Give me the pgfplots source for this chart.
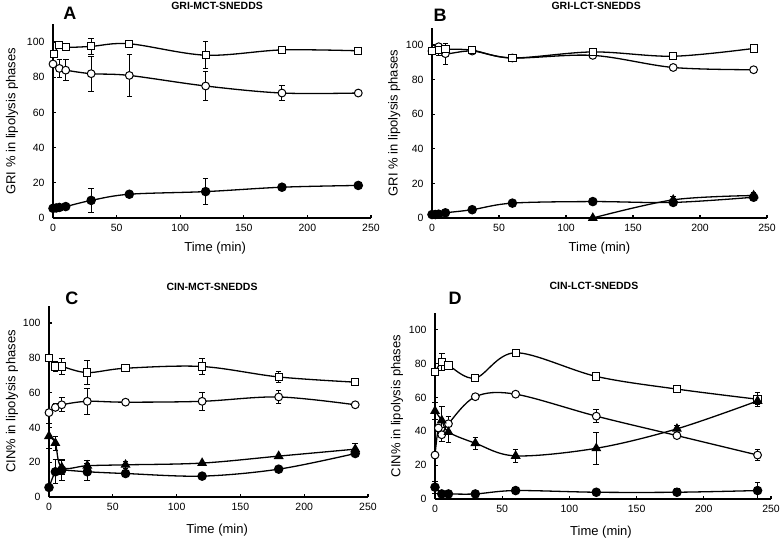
\documentclass[border=0pt]{standalone}
\usepackage{fontspec}
\setmainfont{Liberation Sans}
\usepackage{pgfplots}
\pgfplotsset{compat=1.18}
\usepackage{pgfplotstable}

% ---------------- data: t  value  error ----------------
\pgfplotstableread{
t v e
1 93 0
5 98.5 0
10 97 0
30 97.5 4.5
60 99 0
120 92.5 7.5
180 95.5 0
240 95 0
}\Asq
\pgfplotstableread{
t v e
0 87.5 0
5 85 5
10 84 6
30 82 10
60 81 12
120 75 8.5
180 71 4
240 71 0
}\Aoc
\pgfplotstableread{
t v e
0 5.5 0
2.5 5.7 0
5 6 0
10 6.5 0
30 10 7
60 13.5 0
120 15 7.5
180 17.5 0
240 18.5 0
}\Afc
\pgfplotstableread{
t v e
0 96.5 0
5 97 3
10 97.5 0
30 97 0
60 92.5 0
120 96 0
180 93.5 0
240 98 0
}\Bsq
\pgfplotstableread{
t v e
0 96.5 0
5 99 0
10 95 6
30 96.5 0
60 92.5 0
120 94 0
180 87 0
240 85.7 0
}\Boc
\pgfplotstableread{
t v e
0 2 0
2.5 2 0
5 2.2 0
10 3 0
30 4.8 0
60 8.6 0
120 9.5 0
180 9 0
240 12 1
}\Bfc
\pgfplotstableread{
t v e
120 0 0
180 10.5 2
240 13 1.5
}\Btr
\pgfplotstableread{
t v e
0 80 0
5 75 3
10 75 4.5
30 71.5 7
60 74 0
120 75 4.5
180 69 3
240 66 0
}\Csq
\pgfplotstableread{
t v e
0 48.5 0
5 51.5 2
10 53 4
30 55 7.5
60 54.5 0
120 55 5
180 57.5 3.5
240 53 0
}\Coc
\pgfplotstableread{
t v e
0 35 7
5 31 4
10 17 4
30 18 3
60 18.5 2
120 19.5 0
180 23.5 0
240 27.5 3
}\Ctr
\pgfplotstableread{
t v e
0 5.5 0
5 14.5 7
10 15.5 6
30 14.5 5
60 13.5 0
120 12 0
180 16 0
240 25 2
}\Cfc
\pgfplotstableread{
t v e
0 75 0
5 81 5
10 79 0
30 71.5 0
60 86.5 0
120 72.5 0
180 65 0
240 59 4
}\Dsq
\pgfplotstableread{
t v e
0 26 0
2.5 42 0
5 38 4
10 44.5 4.5
30 60.5 0
60 62 0
120 49 4
180 37.5 0
240 26 3
}\Doc
\pgfplotstableread{
t v e
0 52 5
5 46.5 8
10 39.6 6
30 33 3.5
60 25.5 4
120 30 9.5
180 41.5 2
240 58 2
}\Dtr
\pgfplotstableread{
t v e
0 7 3.5
5 3 0
10 3 0
30 3 0
60 5 0
120 4 0
180 4 2
240 5 4.5
}\Dfc

\pgfplotsset{
  panel/.style={
    scale only axis, anchor=south west,
    axis lines=left, axis line style={-, line width=1.5pt, black},
    xmin=0, xmax=250, ymin=0, ymax=110,
    xtick={0,50,...,250}, ytick={0,20,...,100},
    tick align=inside, major tick length=3pt,
    tick style={line width=1.1pt, black},
    ticklabel style={font=\fontsize{10.5}{12}\selectfont},
    /pgf/number format/assume math mode=true,
    xticklabel style={yshift=-3pt}, yticklabel style={xshift=-5pt},
    xlabel={Time (min)},
    label style={font=\fontsize{13}{15}\selectfont},
    title style={font=\bfseries\fontsize{10.5}{12}\selectfont, anchor=center},
    clip=false,
  },
  ln/.style={black, line width=1.3pt, smooth, tension=0.55},
  sq/.style={ln, mark=square*, mark size=3.6pt, mark options={fill=white, draw=black, line width=1pt}},
  oc/.style={ln, mark=*, mark size=3.9pt, mark options={fill=white, draw=black, line width=1pt}},
  fc/.style={ln, mark=*, mark size=4.1pt, mark options={fill=black, draw=black}},
  tr/.style={ln, mark=triangle*, mark size=4.5pt, mark options={fill=black, draw=black}},
  eb/.style={only marks, mark=none, forget plot,
    error bars/.cd, y dir=both, y explicit,
    error bar style={draw=black, line width=1pt},
    error mark options={rotate=90, mark size=2.8pt, draw=black, line width=1pt}},
}

\begin{document}
\begin{tikzpicture}
\useasboundingbox (0,0) rectangle (783pt,539pt);

% ---------------- A ----------------
\begin{axis}[panel, at={(53pt,321pt)}, width=318pt, height=193.6pt,
  ylabel={GRI \% in lipolysis phases},
  title={GRI-MCT-SNEDDS},
  title style={at={(axis description cs:0.516,1.064)}},
  xlabel style={at={(axis description cs:0.51,-0.155)}, anchor=center},
  ylabel style={at={(axis description cs:-0.129,0.5)}, anchor=center}]
\addplot[eb] table[x=t,y=v,y error=e]{\Asq};
\addplot[eb] table[x=t,y=v,y error=e]{\Aoc};
\addplot[eb] table[x=t,y=v,y error=e]{\Afc};
\addplot[sq] table[x=t,y=v]{\Asq};
\addplot[oc] table[x=t,y=v]{\Aoc};
\addplot[fc] table[x=t,y=v]{\Afc};
\node[font=\bfseries\fontsize{18}{20}\selectfont] at (axis description cs:0.053,1.059) {A};
\end{axis}

% ---------------- B ----------------
\begin{axis}[panel, at={(432pt,321pt)}, width=335pt, height=190.3pt,
  ylabel={GRI \% in lipolysis phases},
  title={GRI-LCT-SNEDDS},
  title style={at={(axis description cs:0.49,1.083)}},
  xlabel style={at={(axis description cs:0.5,-0.16)}, anchor=center},
  ylabel style={at={(axis description cs:-0.113,0.5)}, anchor=center}]
\addplot[eb] table[x=t,y=v,y error=e]{\Bsq};
\addplot[eb] table[x=t,y=v,y error=e]{\Boc};
\addplot[eb] table[x=t,y=v,y error=e]{\Bfc};
\addplot[eb] table[x=t,y=v,y error=e]{\Btr};
\addplot[oc] table[x=t,y=v]{\Boc};
\addplot[sq] table[x=t,y=v]{\Bsq};
\addplot[tr] table[x=t,y=v]{\Btr};
\addplot[fc] table[x=t,y=v]{\Bfc};
\node[font=\bfseries\fontsize{18}{20}\selectfont] at (axis description cs:0.024,1.067) {B};
\end{axis}

% ---------------- C ----------------
\begin{axis}[panel, at={(49pt,42pt)}, width=319pt, height=191.4pt,
  ylabel={CIN\% in lipolysis phases},
  title={CIN-MCT-SNEDDS},
  title style={at={(axis description cs:0.511,1.066)}},
  xlabel style={at={(axis description cs:0.527,-0.172)}, anchor=center},
  ylabel style={at={(axis description cs:-0.116,0.5)}, anchor=center}]
\addplot[eb] table[x=t,y=v,y error=e]{\Csq};
\addplot[eb] table[x=t,y=v,y error=e]{\Coc};
\addplot[eb] table[x=t,y=v,y error=e]{\Ctr};
\addplot[eb] table[x=t,y=v,y error=e]{\Cfc};
\addplot[sq] table[x=t,y=v]{\Csq};
\addplot[oc] table[x=t,y=v]{\Coc};
\addplot[tr] table[x=t,y=v]{\Ctr};
\addplot[fc] table[x=t,y=v]{\Cfc};
\node[font=\bfseries\fontsize{18}{20}\selectfont] at (axis description cs:0.072,1.04) {C};
\end{axis}

% ---------------- D ----------------
\begin{axis}[panel, at={(435pt,40pt)}, width=336pt, height=186pt,
  ylabel={CIN\% in lipolysis phases},
  title={CIN-LCT-SNEDDS},
  title style={at={(axis description cs:0.473,1.113)}},
  xlabel style={at={(axis description cs:0.494,-0.177)}, anchor=center},
  ylabel style={at={(axis description cs:-0.113,0.5)}, anchor=center}]
\addplot[eb] table[x=t,y=v,y error=e]{\Dsq};
\addplot[eb] table[x=t,y=v,y error=e]{\Doc};
\addplot[eb] table[x=t,y=v,y error=e]{\Dtr};
\addplot[eb] table[x=t,y=v,y error=e]{\Dfc};
\addplot[sq] table[x=t,y=v]{\Dsq};
\addplot[oc] table[x=t,y=v]{\Doc};
\addplot[tr] table[x=t,y=v]{\Dtr};
\addplot[fc] table[x=t,y=v]{\Dfc};
\node[font=\bfseries\fontsize{18}{20}\selectfont] at (axis description cs:0.06,1.08) {D};
\end{axis}
\end{tikzpicture}
\end{document}
